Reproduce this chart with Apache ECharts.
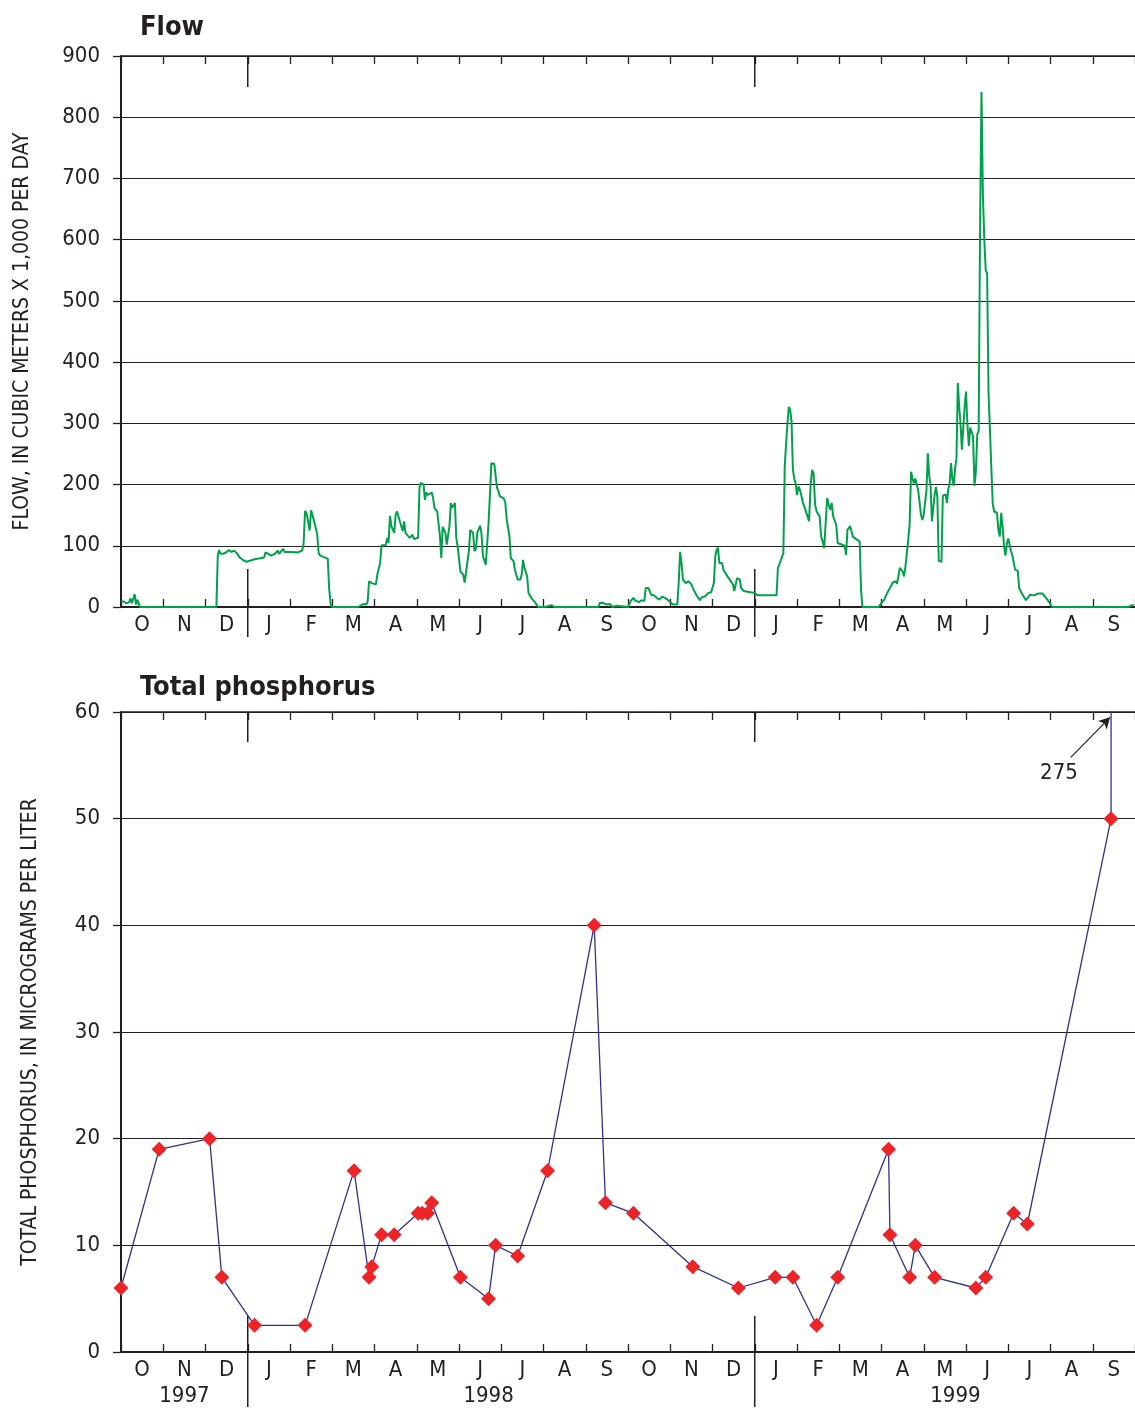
<!DOCTYPE html>
<html>
<head>
<meta charset="utf-8">
<script src="https://cdn.jsdelivr.net/npm/echarts@6/dist/echarts.min.js"></script>
<style>
html,body{margin:0;padding:0;background:#fff;}
#chart{width:1135px;height:1417px;}
</style>
</head>
<body>
<div id="chart"></div>
<script>
// Month labels (Oct 1997 - Sep 1999)
const monthLabels = ['O','N','D','J','F','M','A','M','J','J','A','S','O','N','D','J','F','M','A','M','J','J','A','S'];
const yearLabels = ['1997','1998','1999'];
const flowTicks = [0,100,200,300,400,500,600,700,800,900];
const tpTicks = [0,10,20,30,40,50,60];

// Daily flow (cubic meters x 1,000 per day)
const flowDates = [
 '1997-10-01','1997-10-03','1997-10-05','1997-10-07','1997-10-08','1997-10-09','1997-10-11','1997-10-12','1997-10-13','1997-10-15',
 '1997-12-09','1997-12-10','1997-12-11','1997-12-12','1997-12-14','1997-12-16','1997-12-18','1997-12-20','1997-12-22','1997-12-24','1997-12-26','1997-12-29','1997-12-31',
 '1998-01-01','1998-01-06','1998-01-13','1998-01-14','1998-01-16','1998-01-18','1998-01-21','1998-01-23','1998-01-24','1998-01-27','1998-01-28',
 '1998-02-02','1998-02-06','1998-02-09','1998-02-10','1998-02-11','1998-02-12','1998-02-13','1998-02-14','1998-02-15','1998-02-16','1998-02-17','1998-02-19','1998-02-20','1998-02-21','1998-02-24','1998-02-26','1998-02-27','1998-02-28',
 '1998-03-01','1998-03-20','1998-03-21','1998-03-24','1998-03-26','1998-03-27','1998-03-28','1998-03-30','1998-03-31',
 '1998-04-02','1998-04-03','1998-04-05','1998-04-06','1998-04-09','1998-04-10','1998-04-11','1998-04-12','1998-04-13','1998-04-15','1998-04-16','1998-04-17','1998-04-18','1998-04-19','1998-04-21','1998-04-22','1998-04-23','1998-04-24','1998-04-26','1998-04-28','1998-04-29',
 '1998-05-02','1998-05-03','1998-05-04','1998-05-06','1998-05-07','1998-05-08','1998-05-09','1998-05-10','1998-05-12','1998-05-13','1998-05-14','1998-05-16','1998-05-18','1998-05-19','1998-05-20','1998-05-22','1998-05-23','1998-05-25','1998-05-26','1998-05-27','1998-05-29','1998-05-30','1998-05-31',
 '1998-06-02','1998-06-04','1998-06-05','1998-06-06','1998-06-08','1998-06-09','1998-06-11','1998-06-12','1998-06-13','1998-06-14','1998-06-16','1998-06-17','1998-06-18','1998-06-19','1998-06-20','1998-06-22','1998-06-23','1998-06-24','1998-06-26','1998-06-27','1998-06-28','1998-06-29','1998-06-30',
 '1998-07-03','1998-07-04','1998-07-05','1998-07-07','1998-07-08','1998-07-10','1998-07-11','1998-07-13','1998-07-15','1998-07-16','1998-07-17','1998-07-18','1998-07-20','1998-07-21','1998-07-23','1998-07-26','1998-07-28',
 '1998-08-02','1998-08-03','1998-08-07','1998-08-09',
 '1998-09-10','1998-09-11','1998-09-14','1998-09-16','1998-09-18','1998-09-20','1998-09-23','1998-09-24',
 '1998-10-01','1998-10-03','1998-10-05','1998-10-06','1998-10-09','1998-10-11','1998-10-13','1998-10-14','1998-10-16','1998-10-18','1998-10-20','1998-10-22','1998-10-24','1998-10-26','1998-10-28','1998-10-30','1998-10-31',
 '1998-11-03','1998-11-06','1998-11-07','1998-11-08','1998-11-09','1998-11-10','1998-11-12','1998-11-14','1998-11-16','1998-11-18','1998-11-20','1998-11-22','1998-11-23','1998-11-26','1998-11-28','1998-11-30',
 '1998-12-02','1998-12-03','1998-12-04','1998-12-05','1998-12-06','1998-12-08','1998-12-09','1998-12-12','1998-12-16','1998-12-17','1998-12-19','1998-12-21','1998-12-22','1998-12-24','1998-12-29',
 '1999-01-01','1999-01-03','1999-01-17','1999-01-18','1999-01-19','1999-01-20','1999-01-22','1999-01-23','1999-01-24','1999-01-25','1999-01-26','1999-01-27','1999-01-28','1999-01-29','1999-01-30','1999-01-31',
 '1999-02-01','1999-02-02','1999-02-03','1999-02-04','1999-02-05','1999-02-06','1999-02-08','1999-02-09','1999-02-10','1999-02-11','1999-02-12','1999-02-13','1999-02-14','1999-02-16','1999-02-17','1999-02-18','1999-02-19','1999-02-20','1999-02-21','1999-02-22','1999-02-23','1999-02-24','1999-02-25','1999-02-27','1999-02-28',
 '1999-03-03','1999-03-05','1999-03-06','1999-03-07','1999-03-09','1999-03-11','1999-03-12','1999-03-14','1999-03-16','1999-03-17','1999-03-18','1999-03-30',
 '1999-04-01','1999-04-03','1999-04-05','1999-04-07','1999-04-09','1999-04-11','1999-04-12','1999-04-13','1999-04-14','1999-04-16','1999-04-17','1999-04-18','1999-04-20','1999-04-21','1999-04-22','1999-04-23','1999-04-24','1999-04-25','1999-04-26','1999-04-27','1999-04-28','1999-04-29','1999-04-30',
 '1999-05-01','1999-05-03','1999-05-04','1999-05-05','1999-05-06','1999-05-07','1999-05-08','1999-05-09','1999-05-10','1999-05-11','1999-05-12','1999-05-14','1999-05-15','1999-05-17','1999-05-18','1999-05-19','1999-05-20','1999-05-21','1999-05-22','1999-05-23','1999-05-24','1999-05-25','1999-05-26','1999-05-27','1999-05-28','1999-05-29','1999-05-30','1999-05-31',
 '1999-06-01','1999-06-02','1999-06-03','1999-06-04','1999-06-05','1999-06-06','1999-06-07','1999-06-08','1999-06-09','1999-06-10','1999-06-11','1999-06-12','1999-06-13','1999-06-14','1999-06-15','1999-06-16','1999-06-17','1999-06-18','1999-06-19','1999-06-20','1999-06-21','1999-06-23','1999-06-24','1999-06-25','1999-06-26','1999-06-27','1999-06-28','1999-06-29','1999-06-30',
 '1999-07-01','1999-07-03','1999-07-04','1999-07-05','1999-07-06','1999-07-08','1999-07-09','1999-07-11','1999-07-12','1999-07-14','1999-07-15','1999-07-17','1999-07-20','1999-07-21','1999-07-23','1999-07-26','1999-07-28','1999-07-31',
 '1999-08-02','1999-09-26','1999-09-27','1999-09-30'
];
const flowValues = [
 9,9,6,8,14,6,21,4,12,0,
 0,84,93,87,87,89,93,90,92,88,81,76,74,
 76,78,81,89,87,84,87,92,87,95,90,
 90,89,92,103,157,153,140,125,158,155,140,119,88,84,81,79,28,4,
 0,0,2,5,4,9,42,39,37,
 37,53,72,101,101,113,105,149,132,121,151,156,159,140,124,140,121,124,113,118,111,
 113,195,203,200,175,187,183,180,187,178,162,156,116,80,131,121,102,132,170,162,170,113,99,
 58,53,40,42,91,126,121,91,95,121,133,119,83,80,69,137,186,235,234,231,195,189,181,
 177,170,143,116,80,75,61,45,45,53,77,64,50,23,15,7,0,
 0,3,3,0,
 0,7,6,4,5,0,2,0,
 0,10,15,11,8,11,10,31,31,20,19,15,12,17,15,12,10,
 4,4,39,90,72,45,39,42,37,26,18,11,15,18,23,24,
 39,82,93,97,72,72,61,50,37,26,47,45,31,26,24,
 23,19,19,64,69,69,88,229,267,300,327,322,303,224,210,202,
 183,197,191,188,170,167,148,140,197,224,218,167,156,148,115,107,96,93,178,167,159,170,148,134,104,
 102,100,85,126,132,115,112,110,107,28,0,0,
 7,12,23,31,40,42,38,50,64,58,50,66,110,137,221,210,202,210,212,191,172,151,142,
 151,191,251,215,198,140,137,184,196,179,75,74,182,184,170,193,201,235,209,198,226,243,366,327,299,257,293,327,
 352,299,263,293,296,279,198,221,282,288,623,841,673,600,550,545,349,290,226,168,156,154,126,115,154,131,100,84,103,
 112,92,84,73,61,59,31,22,20,11,12,20,19,17,22,22,17,8,
 0,0,3,4
];

// Total phosphorus (micrograms per liter), sample dates and values
const tpDates = [
 '1997-10-01','1997-10-29','1997-12-04','1997-12-13',
 '1998-01-06','1998-02-11','1998-03-17','1998-03-28','1998-03-30','1998-04-06','1998-04-15','1998-05-02','1998-05-05','1998-05-09','1998-05-12',
 '1998-06-02','1998-06-22','1998-06-27','1998-07-13','1998-08-04','1998-09-07','1998-09-15','1998-10-05','1998-11-17','1998-12-20',
 '1999-01-16','1999-01-29','1999-02-14','1999-02-28','1999-04-06','1999-04-07','1999-04-21','1999-04-25','1999-05-09','1999-06-08','1999-06-15',
 '1999-07-05','1999-07-15','1999-09-14','1999-09-14'
];
const tpValues = [
 6,19,20,7,
 2.5,2.5,17,7,8,11,11,13,13,13,14,
 7,5,10,9,17,40,14,13,8,6,
 7,7,2.5,7,19,11,7,10,7,6,7,
 13,12,50,275
];

const FONT = "'Liberation Sans Narrow','DejaVu Sans Condensed','Arial Narrow',sans-serif";
const INK = '#231f20';

function mpos(s){
  const p = s.split('-').map(Number);
  const dim = new Date(p[0], p[1], 0).getDate();
  return (p[0]-1997)*12 + (p[1]-10) + (p[2]-1)/dim;
}

const flowData = flowDates.map((d,i)=>[mpos(d), flowValues[i]]);
const tpData = tpDates.map((d,i)=>[mpos(d), tpValues[i]]);

function valX(gi, pos){
  return {
    type:'value', gridIndex:gi, min:0, max:24, interval:1, position:pos,
    axisLine:{show:true, onZero:false, lineStyle:{color:INK, width: pos==='bottom'?2:1.5}},
    axisTick:{show:true, inside:true, length:8, lineStyle:{color:INK, width:1.3}},
    axisLabel:{show:false}, splitLine:{show:false}
  };
}
function catX(gi){
  return {
    type:'category', gridIndex:gi, data:monthLabels, boundaryGap:true, position:'bottom',
    axisLine:{show:false}, axisTick:{show:false},
    axisLabel:{show:true, interval:0, margin:7, fontSize:22, color:INK, fontFamily:FONT},
    splitLine:{show:false}
  };
}
function valY(gi, max, interval, name, gap){
  return {
    type:'value', gridIndex:gi, min:0, max:max, interval:interval,
    name:name, nameLocation:'middle', nameRotate:90, nameGap:gap,
    nameTextStyle:{fontSize:21, color:INK, fontFamily:FONT},
    axisLine:{show:true, lineStyle:{color:INK, width:2}},
    axisTick:{show:true, inside:false, length:8, lineStyle:{color:INK, width:1.3}},
    axisLabel:{show:true, margin:21, fontSize:22, color:INK, fontFamily:FONT},
    splitLine:{show:true, lineStyle:{color:INK, width:1}}
  };
}

const chart = echarts.init(document.getElementById('chart'), null, {renderer:'canvas'});
chart.setOption({
  animation:false,
  backgroundColor:'#fff',
  title:[
    {text:'Flow', left:135, top:9, textStyle:{fontSize:27, fontWeight:'bold', color:INK, fontFamily:FONT}},
    {text:'Total phosphorus', left:135, top:669, textStyle:{fontSize:27, fontWeight:'bold', color:INK, fontFamily:FONT}}
  ],
  grid:[
    {left:121, right:0, top:56, height:551},
    {left:121, right:0, top:712, height:640}
  ],
  xAxis:[valX(0,'bottom'), valX(0,'top'), catX(0), valX(1,'bottom'), valX(1,'top'), catX(1)],
  yAxis:[
    valY(0, 900, 100, 'FLOW, IN CUBIC METERS X 1,000 PER DAY', 88),
    valY(1, 60, 10, 'TOTAL PHOSPHORUS, IN MICROGRAMS PER LITER', 80)
  ],
  series:[
    {type:'line', name:'Flow', xAxisIndex:0, yAxisIndex:0, data:flowData, showSymbol:false, symbol:'none',
     lineStyle:{color:'#00a14b', width:2}, z:3},
    {type:'line', name:'Total phosphorus', xAxisIndex:3, yAxisIndex:1, data:tpData,
     symbol:'diamond', symbolSize:15, showAllSymbol:true,
     itemStyle:{color:'#ec2427', borderWidth:0},
     lineStyle:{color:'#2e3192', width:1.3}, z:3,
     markLine:{silent:true, symbol:['none','arrow'], symbolSize:[9,11], animation:false,
       lineStyle:{color:INK, width:1.2, type:'solid'}, label:{show:false},
       data:[[{coord:[22.48,55.75]},{coord:[23.41,59.5]}]]}
    }
  ]
});

// Decorative year dividers, year labels and the "275" note, positioned through the axes
function px(ax, v){ return chart.convertToPixel({xAxisIndex:ax}, v); }
function py(ay, v){ return chart.convertToPixel({yAxisIndex:ay}, v); }
const g = [];
const lineStyle = {stroke:INK, lineWidth:1.5};
[3,15].forEach(m=>{
  const x0 = px(0,m), x1 = px(3,m);
  const t0 = py(0,900), b0 = py(0,0), t1 = py(1,60), b1 = py(1,0);
  g.push({type:'line', shape:{x1:x0,y1:t0,x2:x0,y2:t0+31}, style:lineStyle, silent:true});
  g.push({type:'line', shape:{x1:x0,y1:b0-38,x2:x0,y2:b0+30}, style:lineStyle, silent:true});
  g.push({type:'line', shape:{x1:x1,y1:t1,x2:x1,y2:t1+30}, style:lineStyle, silent:true});
  g.push({type:'line', shape:{x1:x1,y1:b1-36,x2:x1,y2:b1+55}, style:lineStyle, silent:true});
});
const yearPos = [1.5, 8.7, 19.75];
yearLabels.forEach((t,i)=>{
  g.push({type:'text', x:px(3,yearPos[i]), y:py(1,0)+44, silent:true,
    style:{text:t, fill:INK, font:'22px '+FONT, align:'center', verticalAlign:'middle'}});
});
const n = chart.convertToPixel({xAxisIndex:3, yAxisIndex:1}, [22.2, 54.3]);
g.push({type:'text', x:n[0], y:n[1], silent:true,
  style:{text:'275', fill:INK, font:'22px '+FONT, align:'center', verticalAlign:'middle'}});
chart.setOption({graphic:g});
</script>
</body>
</html>
